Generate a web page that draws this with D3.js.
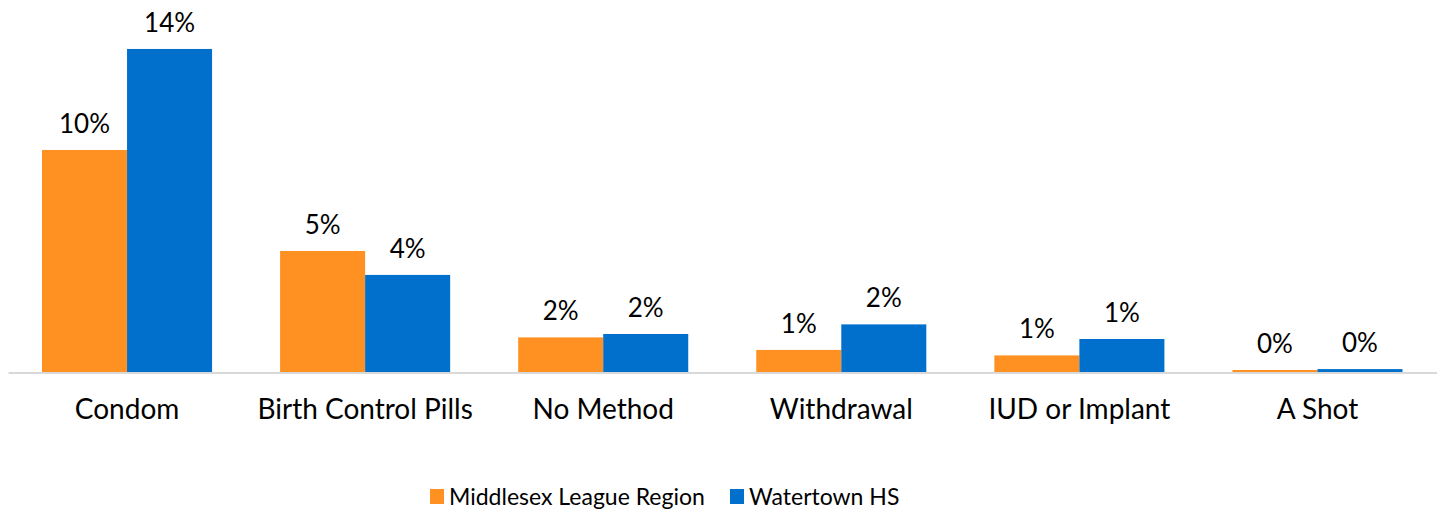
<!DOCTYPE html>
<html>
<head>
<meta charset="utf-8">
<script src="https://cdn.jsdelivr.net/npm/d3@7"></script>
<style>
  body { margin: 0; background: #fff; }
  svg { display: block; font-family: Lato, "Open Sans", sans-serif; }
</style>
</head>
<body>
<svg id="chart" width="1445" height="516"></svg>
<script>
// data
const categories = ["Condom", "Birth Control Pills", "No Method", "Withdrawal", "IUD or Implant", "A Shot"];
const seriesNames = ["Middlesex League Region", "Watertown HS"];
const middlesex = [9.76, 5.33, 1.54, 0.99, 0.75, 0.11];
const watertown = [14.19, 4.28, 1.69, 2.11, 1.47, 0.15];
const colors = ["#FF9122", "#0070CC"];

const BASE = 372.5;
const SVG = d3.select("#chart");

const X0 = d3.scaleBand().domain(categories).range([8, 1436.5]).padding(0);
const X1 = d3.scaleBand().domain(seriesNames).range([0, X0.bandwidth()]).paddingInner(0).paddingOuter(0.4);
const Y = d3.scaleLinear().domain([0, 16]).range([BASE, BASE - 16 * 22.8]);

const rows = categories.map((c, i) => ({ cat: c, vals: [middlesex[i], watertown[i]] }));

const fmt = (v) => Math.round(v) + "%";

const groups = SVG.append("g")
  .selectAll("g")
  .data(rows)
  .join("g")
  .attr("transform", (d) => `translate(${X0(d.cat)},0)`);

groups
  .selectAll("rect")
  .data((d) => d.vals.map((v, j) => ({ v, s: seriesNames[j], j })))
  .join("rect")
  .attr("x", (d) => X1(d.s))
  .attr("width", X1.bandwidth())
  .attr("y", (d) => Y(d.v))
  .attr("height", (d) => Y(0) - Y(d.v))
  .style("fill", (d) => colors[d.j]);

groups
  .selectAll("text")
  .data((d) => d.vals.map((v, j) => ({ v, s: seriesNames[j], j })))
  .join("text")
  .attr("x", (d) => X1(d.s) + X1.bandwidth() / 2)
  .attr("y", (d) => Y(d.v) - 17)
  .attr("text-anchor", "middle")
  .style("font-size", "26px")
  .style("fill", "#000")
  .text((d) => fmt(d.v));

// x axis
const X_AXIS = d3.axisBottom(X0).tickSize(0).tickPadding(0);
const X_AXIS_G = SVG.append("g").attr("transform", `translate(0,${BASE})`);
X_AXIS(X_AXIS_G);
X_AXIS_G.select(".domain").attr("stroke", "#D9D9D9").attr("stroke-width", 2);
X_AXIS_G.selectAll("text")
  .attr("dy", null)
  .attr("y", 46)
  .style("font-size", "28px")
  .style("font-family", "Lato, 'Open Sans', sans-serif")
  .style("fill", "#000");

// legend
const LEGEND = SVG.append("g").attr("transform", "translate(430,0)");
const legendX = [0, 300];
seriesNames.forEach((name, i) => {
  const g = LEGEND.append("g").attr("transform", `translate(${legendX[i]},0)`);
  g.append("rect").attr("x", 0).attr("y", 489).attr("width", 14).attr("height", 15).style("fill", colors[i]);
  g.append("text").attr("x", 19).attr("y", 505).style("font-size", "23px").style("fill", "#000").text(name);
});
</script>
</body>
</html>
